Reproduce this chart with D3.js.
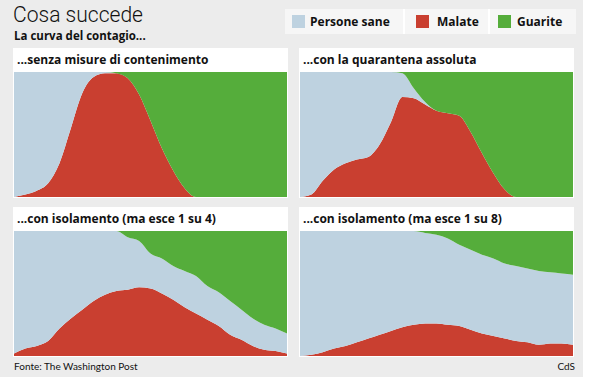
<!DOCTYPE html>
<html>
<head>
<meta charset="utf-8">
<script src="https://cdn.jsdelivr.net/npm/d3@7"></script>
<style>
  body { margin: 0; background: #fff; }
  text { font-family: "Open Sans", Lato, sans-serif; fill: #111; }
</style>
</head>
<body>
<svg id="chart" width="590" height="380"></svg>
<script>
// Shares of population (0..1) sampled at 25 evenly spaced moments
const steps = d3.range(25);

const titles = [
  "...senza misure di contenimento",
  "...con la quarantena assoluta",
  "...con isolamento (ma esce 1 su 4)",
  "...con isolamento (ma esce 1 su 8)"
];

// panel 1 - no measures
const malate1  = [0, 0.02, 0.05, 0.11, 0.27, 0.55, 0.83, 0.96, 0.99, 0.99, 0.95, 0.82, 0.61, 0.39, 0.21, 0.07, 0, 0, 0, 0, 0, 0, 0, 0, 0];
const sane1    = [1, 0.98, 0.95, 0.89, 0.73, 0.45, 0.17, 0.04, 0.01, 0, 0, 0, 0, 0, 0, 0, 0, 0, 0, 0, 0, 0, 0, 0, 0];
const guarite1 = [0, 0, 0, 0, 0, 0, 0, 0, 0, 0.01, 0.05, 0.18, 0.39, 0.61, 0.79, 0.93, 1, 1, 1, 1, 1, 1, 1, 1, 1];

// panel 2 - full quarantine
const malate2  = [0, 0.02, 0.13, 0.22, 0.27, 0.30, 0.32, 0.42, 0.60, 0.80, 0.79, 0.74, 0.69, 0.67, 0.65, 0.52, 0.35, 0.19, 0.06, 0, 0, 0, 0, 0, 0];
const sane2    = [1, 0.98, 0.87, 0.78, 0.73, 0.70, 0.68, 0.58, 0.40, 0.19, 0.08, 0.02, 0, 0, 0, 0, 0, 0, 0, 0, 0, 0, 0, 0, 0];
const guarite2 = [0, 0, 0, 0, 0, 0, 0, 0, 0, 0.01, 0.13, 0.24, 0.31, 0.33, 0.35, 0.48, 0.65, 0.81, 0.94, 1, 1, 1, 1, 1, 1];

// panel 3 - isolation, 1 in 4 goes out
const malate3  = [0.02, 0.06, 0.08, 0.12, 0.22, 0.30, 0.37, 0.44, 0.49, 0.52, 0.53, 0.55, 0.54, 0.50, 0.45, 0.39, 0.34, 0.29, 0.24, 0.17, 0.13, 0.08, 0.05, 0.04, 0.02];
const sane3    = [0.98, 0.94, 0.92, 0.88, 0.78, 0.70, 0.63, 0.56, 0.51, 0.48, 0.42, 0.37, 0.28, 0.28, 0.27, 0.29, 0.30, 0.27, 0.27, 0.27, 0.24, 0.22, 0.20, 0.18, 0.16];
const guarite3 = [0, 0, 0, 0, 0, 0, 0, 0, 0, 0, 0.05, 0.08, 0.18, 0.22, 0.28, 0.32, 0.36, 0.44, 0.49, 0.56, 0.63, 0.70, 0.75, 0.78, 0.82];

// panel 4 - isolation, 1 in 8 goes out
const malate4  = [0, 0.01, 0.03, 0.06, 0.08, 0.11, 0.14, 0.17, 0.20, 0.23, 0.25, 0.26, 0.26, 0.25, 0.24, 0.21, 0.18, 0.16, 0.14, 0.12, 0.11, 0.09, 0.10, 0.10, 0.09];
const sane4    = [1, 0.99, 0.97, 0.94, 0.92, 0.89, 0.86, 0.83, 0.80, 0.77, 0.75, 0.725, 0.71, 0.69, 0.65, 0.64, 0.63, 0.62, 0.60, 0.60, 0.59, 0.59, 0.57, 0.56, 0.56];
const guarite4 = [0, 0, 0, 0, 0, 0, 0, 0, 0, 0, 0, 0.015, 0.03, 0.06, 0.11, 0.15, 0.19, 0.22, 0.26, 0.28, 0.30, 0.32, 0.33, 0.34, 0.35];

const legendLabels = ["Persone sane", "Malate", "Guarite"];
const keys = ["malate", "sane", "guarite"];
const colours = { sane: "#bed2e0", malate: "#c93f30", guarite: "#55ad3b" };

const panelsData = [
  [malate1, sane1, guarite1],
  [malate2, sane2, guarite2],
  [malate3, sane3, guarite3],
  [malate4, sane4, guarite4]
];

const svg = d3.select("#chart");

// grey page background
svg.append("rect").attr("width", 583).attr("height", 377).attr("fill", "#ececec");

svg.append("text").attr("x", 13).attr("y", 22)
  .attr("textLength", 130).attr("lengthAdjust", "spacingAndGlyphs")
  .style("font-family", "Roboto").style("font-weight", 300).style("font-size", "22px")
  .text("Cosa succede");
svg.append("text").attr("x", 14).attr("y", 40)
  .style("font-weight", 700).style("font-size", "11.5px")
  .text("La curva del contagio...");

// Legend
const legend = svg.append("g").attr("transform", "translate(285, 9)");
legend.append("rect").attr("width", 291).attr("height", 25).attr("fill", "#f6f6f6");
const legendPos = [{ sq: 7, tx: 25, sep: 118 }, { sq: 131, tx: 152, sep: 203 }, { sq: 213, tx: 232 }];
const legendKeys = ["sane", "malate", "guarite"];
legendLabels.forEach((label, i) => {
  const p = legendPos[i];
  legend.append("rect").attr("x", p.sq).attr("y", 6).attr("width", 13).attr("height", 13)
    .attr("fill", colours[legendKeys[i]]);
  legend.append("text").attr("x", p.tx).attr("y", 17)
    .style("font-weight", 700).style("font-size", "12px").text(label);
  if (p.sep) legend.append("rect").attr("x", p.sep).attr("y", 0).attr("width", 2).attr("height", 25).attr("fill", "#ffffff");
});

// Panels
const layout = [
  { x: 13, y: 48 }, { x: 299, y: 48 },
  { x: 13, y: 207 }, { x: 299, y: 207 }
];
const panelW = 275, headH = 24, plotH = 125;

layout.forEach((pos, i) => {
  const g = svg.append("g").attr("transform", `translate(${pos.x}, ${pos.y})`);
  g.append("rect").attr("width", panelW).attr("height", headH + plotH + 1).attr("fill", "#fff");
  g.append("text").attr("x", 4).attr("y", 16)
    .style("font-weight", 700).style("font-size", "12px").text(titles[i]);

  const [m, s, gu] = panelsData[i];
  const rows = steps.map(t => ({ t, malate: m[t], sane: s[t], guarite: gu[t] }));
  const series = d3.stack().keys(keys)(rows);

  const x = d3.scaleLinear().domain([0, steps.length - 1]).range([1, panelW - 1]);
  const y = d3.scaleLinear().domain([0, 1]).range([headH + plotH, headH]);

  const area = d3.area()
    .x(d => x(d.data.t))
    .y0(d => y(d[0]))
    .y1(d => y(d[1]))
    .curve(d3.curveMonotoneX);

  g.selectAll("path.layer").data(series).join("path")
    .attr("class", "layer")
    .attr("fill", d => colours[d.key])
    .attr("d", area);
});

// Footer
svg.append("text").attr("x", 14).attr("y", 370)
  .style("font-family", "Lato").style("font-size", "10px").text("Fonte: The Washington Post");
svg.append("text").attr("x", 575).attr("y", 370).attr("text-anchor", "end")
  .style("font-family", "Lato").style("font-size", "10px").text("CdS");
</script>
</body>
</html>
